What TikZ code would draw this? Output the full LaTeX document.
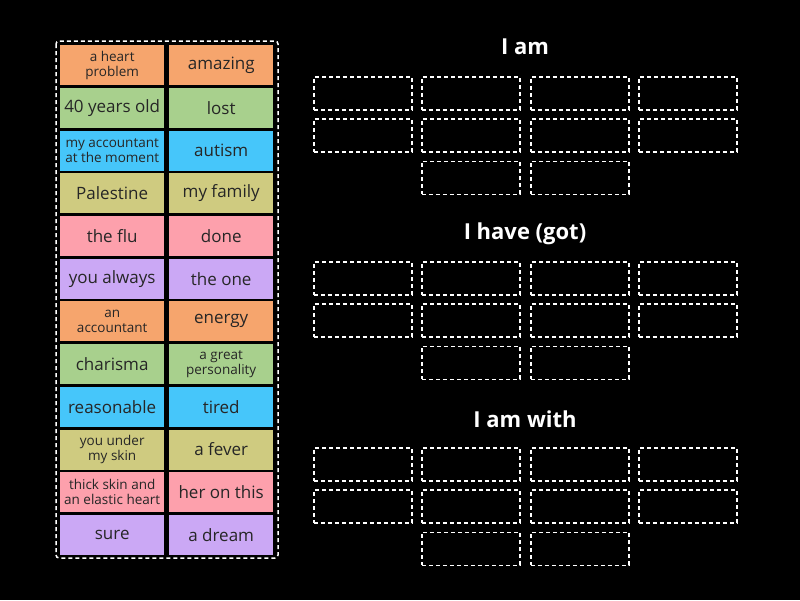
\documentclass[tikz,border=0pt]{standalone}
\usepackage{fontspec}
\setmainfont{Open Sans}
\begin{document}
\begin{tikzpicture}[x=1pt,y=-1pt,
 tile/.style={minimum width=104pt,minimum height=40pt,inner sep=0pt,align=center,text=black!85,anchor=north west},
 one/.style={tile,font=\fontsize{17}{19}\selectfont},
 two/.style={tile,font=\fontsize{13.5}{15}\selectfont},
 slot/.style={draw=white,dash pattern=on 4pt off 3pt,line width=1.5pt,minimum width=98pt,minimum height=33pt,inner sep=0pt,anchor=north west},
 ttl/.style={text=white,font=\fontsize{22}{24}\selectfont\bfseries}]
\useasboundingbox[fill=black] (0,0) rectangle (800,600);
\definecolor{co}{HTML}{F6A56D}\definecolor{cg}{HTML}{A8D08D}\definecolor{cb}{HTML}{46C6FA}
\definecolor{cy}{HTML}{CFCB80}\definecolor{cp}{HTML}{FDA0AC}\definecolor{cv}{HTML}{CBA8F5}
\draw[white,dash pattern=on 4pt off 3pt,line width=1.5pt,rounded corners=3pt] (56,41) rectangle (278,558);
\foreach \i/\c/\sa/\ta/\sb/\tb in {
0/co/two/{a heart\\problem}/one/amazing,
1/cg/one/40 years old/one/lost,
2/cb/two/{my accountant\\at the moment}/one/autism,
3/cy/one/Palestine/one/my family,
4/cp/one/the flu/one/done,
5/cv/one/you always/one/the one,
6/co/two/{an\\accountant}/one/energy,
7/cg/one/charisma/two/{a great\\personality},
8/cb/one/reasonable/one/tired,
9/cy/two/{you under\\my skin}/one/a fever,
10/cp/two/{thick skin and\\an elastic heart}/one/her on this,
11/cv/one/sure/one/a dream}{
 \node[\sa,fill=\c] (l\i) at (60,45+\i*42.7) {\ta};
 \node[\sb,fill=\c] (r\i) at (169,45+\i*42.7) {\tb};
}
\foreach \g/\t/\ty/\by in {1/I am/47/76,2/I have (got)/234/261,3/I am with/419/447}{
 \node[ttl] (t\g) at (525,\ty) {\t};
 \foreach \cx [count=\k] in {313,421,530,638}{
  \node[slot] (s\g a\k) at (\cx,\by) {};
  \node[slot] (s\g b\k) at (\cx,\by+42.3) {};
 }
 \node[slot] (s\g c1) at (421,\by+84.6) {};
 \node[slot] (s\g c2) at (530,\by+84.6) {};
}
\end{tikzpicture}
\end{document}
